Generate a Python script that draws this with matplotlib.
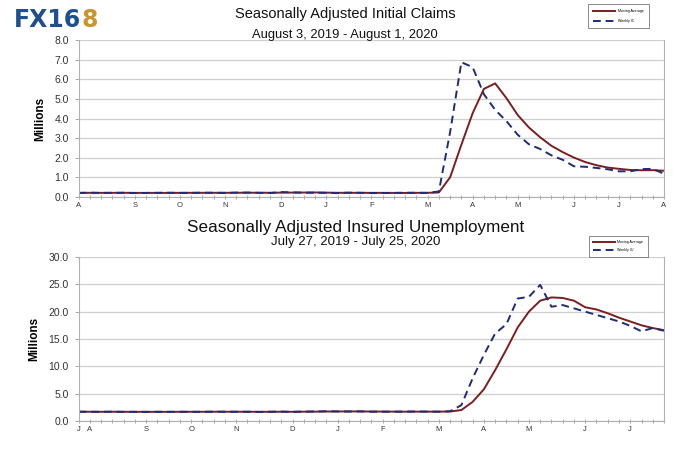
import matplotlib
matplotlib.use("Agg")
import matplotlib.pyplot as plt
from matplotlib.ticker import FormatStrFormatter, MultipleLocator, FixedLocator

plt.rcParams['font.family'] = ['Liberation Sans', 'DejaVu Sans']

# Weekly initial claims (millions), Aug 3 2019 - Aug 1 2020
ic_weekly = [0.209, 0.220, 0.209, 0.215, 0.217, 0.204, 0.208, 0.213, 0.219, 0.210,
             0.214, 0.218, 0.218, 0.211, 0.225, 0.227, 0.213, 0.203, 0.252, 0.235,
             0.222, 0.220, 0.214, 0.204, 0.223, 0.216, 0.203, 0.205, 0.210, 0.219,
             0.216, 0.211, 0.282, 3.307, 6.867, 6.615, 5.237, 4.442, 3.867, 3.176,
             2.687, 2.446, 2.123, 1.897, 1.566, 1.540, 1.482, 1.413, 1.310, 1.307,
             1.422, 1.435, 1.186]
ic_avg = [0.212, 0.214, 0.212, 0.213, 0.215, 0.211, 0.211, 0.211, 0.211, 0.213,
          0.214, 0.215, 0.215, 0.215, 0.218, 0.220, 0.219, 0.217, 0.224, 0.226,
          0.228, 0.232, 0.223, 0.215, 0.215, 0.214, 0.212, 0.212, 0.209, 0.209,
          0.213, 0.214, 0.232, 1.004, 2.667, 4.268, 5.507, 5.790, 5.040, 4.181,
          3.543, 3.044, 2.608, 2.288, 2.008, 1.782, 1.621, 1.500, 1.436, 1.378,
          1.363, 1.369, 1.338]
ic_tick_pos = [0, 5, 9, 13, 18, 22, 26, 31, 35, 39, 44, 48, 52]
ic_tick_lab = ['A', 'S', 'O', 'N', 'D', 'J', 'F', 'M', 'A', 'M', 'J', 'J', 'A']

# Weekly insured unemployment (millions), Jul 27 2019 - Jul 25 2020
iu_weekly = [1.699, 1.676, 1.679, 1.698, 1.670, 1.666, 1.668, 1.684, 1.676, 1.688,
             1.679, 1.685, 1.704, 1.690, 1.691, 1.690, 1.654, 1.693, 1.713, 1.674,
             1.713, 1.740, 1.773, 1.740, 1.728, 1.749, 1.697, 1.702, 1.696, 1.721,
             1.726, 1.714, 1.702, 1.78, 2.9, 7.8, 12.1, 16.0, 17.7, 22.4,
             22.7, 24.9, 20.9, 21.2, 20.6, 20.0, 19.4, 18.8, 18.2, 17.4,
             16.4, 17.0, 16.5]
iu_avg = [1.69, 1.69, 1.68, 1.69, 1.68, 1.68, 1.67, 1.67, 1.67, 1.68,
          1.68, 1.68, 1.69, 1.69, 1.69, 1.69, 1.68, 1.68, 1.69, 1.68,
          1.70, 1.71, 1.73, 1.74, 1.75, 1.75, 1.73, 1.72, 1.71, 1.70,
          1.71, 1.71, 1.71, 1.73, 2.0, 3.5, 5.8, 9.3, 13.1, 17.1,
          20.0, 22.0, 22.6, 22.5, 22.0, 20.8, 20.4, 19.7, 18.9, 18.2,
          17.5, 17.0, 16.6]
iu_tick_pos = [0, 1, 6, 10, 14, 19, 23, 27, 32, 36, 40, 45, 49]
iu_tick_lab = ['J', 'A', 'S', 'O', 'N', 'D', 'J', 'F', 'M', 'A', 'M', 'J', 'J']

AVG_COLOR = '#7a1f1f'
WEEK_COLOR = '#1f2a7a'
GRID = '#cfcfcf'


def style_axes(ax, ymax, ystep, tick_pos, tick_lab):
    ax.set_xlim(0, 52)
    ax.set_ylim(0, ymax)
    ax.yaxis.set_major_locator(MultipleLocator(ystep))
    ax.yaxis.set_major_formatter(FormatStrFormatter('%.1f'))
    ax.grid(axis='y', color=GRID, linewidth=0.9)
    ax.set_axisbelow(True)
    for s in ax.spines.values():
        s.set_color('#b0b0b0')
        s.set_linewidth(0.8)
    ax.spines['top'].set_visible(False)
    ax.xaxis.set_major_locator(FixedLocator(tick_pos))
    ax.set_xticklabels(tick_lab)
    ax.xaxis.set_minor_locator(MultipleLocator(1))
    ax.tick_params(axis='x', which='both', length=3, width=0.5, color='#888888',
                   direction='inout', labelsize=5.5, labelcolor='#333333', pad=2)
    ax.tick_params(axis='y', length=3, width=0.5, color='#888888',
                   labelsize=7.5, labelcolor='#333333', pad=4)
    ax.set_ylabel('Millions', fontsize=8.5, fontweight='bold', labelpad=6)


fig = plt.figure(figsize=(7.0, 4.49), dpi=100)

ax1 = fig.add_axes([0.1123, 0.5612, 0.8363, 0.3497])
x1 = list(range(len(ic_weekly)))
ax1.plot(x1, ic_avg, color=AVG_COLOR, lw=1.4, label='Moving Average')
ax1.plot(x1, ic_weekly, color=WEEK_COLOR, lw=1.4, ls=(0, (4, 2.5)), label='Weekly IC')
style_axes(ax1, 8, 1, ic_tick_pos, ic_tick_lab)
leg1 = ax1.legend(loc='upper left', bbox_to_anchor=(0.867, 1.24), fontsize=2.6,
                  frameon=True, fancybox=False, edgecolor='#555555', handlelength=6,
                  borderpad=1.4, labelspacing=1.6)
leg1.get_frame().set_linewidth(0.6)

ax2 = fig.add_axes([0.1123, 0.0624, 0.8363, 0.3653])
x2 = list(range(len(iu_weekly)))
ax2.plot(x2, iu_avg, color=AVG_COLOR, lw=1.4, label='Moving Average')
ax2.plot(x2, iu_weekly, color=WEEK_COLOR, lw=1.4, ls=(0, (4, 2.5)), label='Weekly IU')
style_axes(ax2, 30, 5, iu_tick_pos, iu_tick_lab)
leg2 = ax2.legend(loc='upper left', bbox_to_anchor=(0.868, 1.14), fontsize=2.6,
                  frameon=True, fancybox=False, edgecolor='#555555', handlelength=6,
                  borderpad=1.2, labelspacing=1.2)
leg2.get_frame().set_linewidth(0.6)

# titles
fig.text(0.493, 0.968, 'Seasonally Adjusted Initial Claims', ha='center', va='center',
         fontsize=10.5, color='#111111')
fig.text(0.493, 0.922, 'August 3, 2019 - August 1, 2020', ha='center', va='center',
         fontsize=9.3, color='#111111')
fig.text(0.508, 0.494, 'Seasonally Adjusted Insured Unemployment', ha='center', va='center',
         fontsize=12.3, color='#111111')
fig.text(0.508, 0.462, 'July 27, 2019 - July 25, 2020', ha='center', va='center',
         fontsize=9.5, color='#111111')

# logo: "FX16" in blue, "8" in gold right after it
logo = fig.text(0.020, 0.955, 'FX16', ha='left', va='center', fontsize=17,
                fontweight='heavy', color='#1e4f8f', family='DejaVu Sans')
renderer = fig.canvas.get_renderer()
bb = logo.get_window_extent(renderer).transformed(fig.transFigure.inverted())
fig.text(bb.x1 + 0.001, 0.955, '8', ha='left', va='center', fontsize=17,
         fontweight='heavy', color='#c9962e', family='DejaVu Sans')

fig.savefig('out.png', dpi=100)
